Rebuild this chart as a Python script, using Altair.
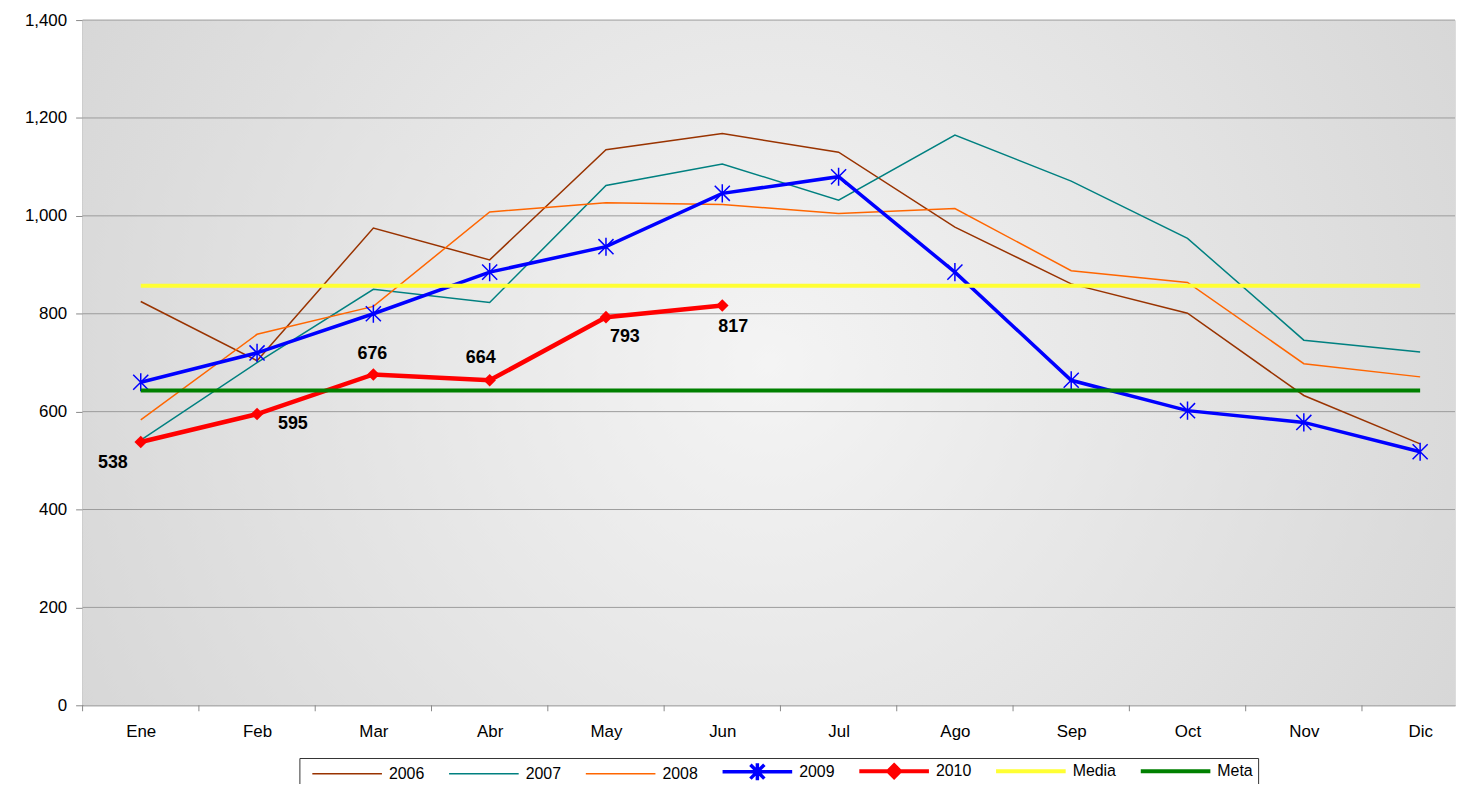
import altair as alt
import pandas as pd

# ---------------- data ----------------
months = ["Ene", "Feb", "Mar", "Abr", "May", "Jun", "Jul", "Ago", "Sep", "Oct", "Nov", "Dic"]
s2006 = [825, 704, 975, 910, 1135, 1168, 1130, 977, 861, 801, 633, 534]
s2007 = [542, 700, 850, 823, 1062, 1106, 1032, 1165, 1071, 954, 746, 722]
s2008 = [583, 758, 815, 1008, 1027, 1023, 1005, 1015, 888, 864, 698, 671]
s2009 = [660, 720, 800, 885, 937, 1046, 1080, 885, 664, 602, 578, 518]
s2010 = [538, 595, 676, 664, 793, 817]
media_value = 857
meta_value = 643
series_names = ["2006", "2007", "2008", "2009", "2010", "Media", "Meta"]
y_ticks = [0, 200, 400, 600, 800, 1000, 1200, 1400]

# ---------------- styles ----------------
series_colors = ["#993300", "#008080", "#ff6600", "#0000ff", "#ff0000", "#ffff33", "#008000"]
label_offsets = [(-28, 21), (36, 10), (-1, -21), (-9, -22), (19, 20), (11, 22)]
W, H = 1380, 689
FONT = "Liberation Sans"

# ---------------- tables ----------------
def long(name, vals):
    return pd.DataFrame({"m": list(range(len(vals))), "value": vals, "series": name})

df_thin = pd.concat([long("2006", s2006), long("2007", s2007), long("2008", s2008)], ignore_index=True)
df_2009 = long("2009", s2009)
df_2010 = long("2010", s2010)
df_ref = pd.DataFrame({
    "series": ["Media", "Meta"],
    "value": [media_value, meta_value],
    "m": [0, 0],
    "m1": [len(months) - 1, len(months) - 1],
})
df_grid = pd.DataFrame({"value": [v for v in y_ticks if v > 0]})
df_bounds = pd.DataFrame({"m": [i - 0.5 for i in range(len(months))]})

# ---------------- scales / axes ----------------
xscale = alt.Scale(domain=[-0.5, 11.3], nice=False, zero=False)
yscale = alt.Scale(domain=[0, 1400], nice=False, zero=True)
month_expr = "[" + ",".join("'%s'" % m for m in months) + "][datum.value]"
xaxis = alt.Axis(values=list(range(len(months))), labelExpr=month_expr, ticks=False, tickSize=0,
                 grid=False, domainColor="#888888", labelFontSize=17, labelFont=FONT,
                 labelColor="black", labelPadding=18, labelAngle=0, title=None)
yaxis = alt.Axis(values=y_ticks, format=",.0f", grid=False, domainColor="#888888", tickColor="#888888",
                 tickSize=7, labelFontSize=17, labelFont=FONT, labelColor="black",
                 labelPadding=9, title=None)

X = alt.X("m:Q", scale=xscale, axis=xaxis)
Y = alt.Y("value:Q", scale=yscale, axis=yaxis)

pad_box = "M0,-0.85M0,0.85"
star_leg = pad_box + "M-3.5,0H3.5M-0.7,-0.7L0.7,0.7M-0.7,0.7L0.7,-0.7M0,-0.85L0,0.85"
dia_leg = pad_box + "M-3.5,0H3.5M0,-0.6L0.6,0L0,0.6L-0.6,0Z"
line_leg = pad_box + "M-3.5,0H3.5"

leg = alt.Legend(
    orient="none", legendX=218, legendY=742, direction="horizontal", title=None,
    strokeColor="#333333", fillColor="white", padding=5, columnPadding=16.5,
    symbolSize=400, symbolOffset=35, labelOffset=34,
    labelFontSize=16, labelFont=FONT, labelColor="black",
    symbolType={"expr": "datum.label === '2009' ? '%s' : (datum.label === '2010' ? '%s' : '%s')"
                % (star_leg, dia_leg, line_leg)},
    symbolStrokeWidth={"expr": "datum.label === '2009' ? 3.5 : (indexof(['2010','Media','Meta'], datum.label) >= 0 ? 4 : 1.5)"},
    symbolFillColor={"expr": "datum.label === '2010' ? '#ff0000' : 'transparent'"},
)
C = alt.Color("series:N", scale=alt.Scale(domain=series_names, range=series_colors), legend=leg)

# ---------------- layers ----------------
bg = alt.Chart(pd.DataFrame({"k": [0]})).mark_rect(
    fill={"gradient": "radial", "x1": 0.5, "y1": 0.5, "r1": 0, "x2": 0.5, "y2": 0.5, "r2": 0.62,
          "stops": [{"offset": 0, "color": "#f4f4f4"}, {"offset": 1, "color": "#d4d4d4"}]}
).encode(x=alt.value(0), x2=alt.value(W), y=alt.value(0), y2=alt.value(H))

grid = alt.Chart(df_grid).mark_rule(color="#9c9c9c", strokeWidth=1).encode(
    y=Y, x=alt.value(0), x2=alt.value(W))

xticks = alt.Chart(df_bounds).mark_rule(color="#888888", strokeWidth=1).encode(
    x=X, y=alt.value(H), y2=alt.value(H + 6))

thin = alt.Chart(df_thin).mark_line(strokeWidth=1.5).encode(x=X, y=Y, color=C)

l2009 = alt.Chart(df_2009).mark_line(strokeWidth=3.5).encode(x=X, y=Y, color=C)
p2009 = alt.Chart(df_2009).mark_point(
    shape="M-1,-1L1,1M-1,1L1,-1M0,-1.2L0,1.2", size=230, filled=False, color="#0000ff",
    strokeWidth=1.5, opacity=1).encode(x=X, y=Y)

l2010 = alt.Chart(df_2010).mark_line(strokeWidth=4.5).encode(x=X, y=Y, color=C)
p2010 = alt.Chart(df_2010).mark_point(
    shape="diamond", size=160, filled=True, color="#ff0000", opacity=1).encode(x=X, y=Y)

refs = alt.Chart(df_ref).mark_rule(strokeWidth=4).encode(
    x=X, x2="m1:Q", y=Y, color=C)

labels = []
for i, (dx, dy) in enumerate(label_offsets):
    labels.append(
        alt.Chart(df_2010).transform_filter(alt.datum.m == i).mark_text(
            dx=dx, dy=dy, fontSize=18, font=FONT, fontWeight="bold", color="black",
            align="center", baseline="middle").encode(x=X, y=Y, text="value:Q")
    )

chart = alt.layer(bg, grid, xticks, thin, l2009, p2009, l2010, p2010, refs, *labels).properties(
    width=W, height=H,
    autosize=alt.AutoSizeParams(type="none"),
    padding={"left": 75, "top": 10, "right": 5, "bottom": 77},
).configure_view(stroke=None).configure(background="white")

chart.save("out.html", embed_options={"renderer": "svg", "actions": False})
